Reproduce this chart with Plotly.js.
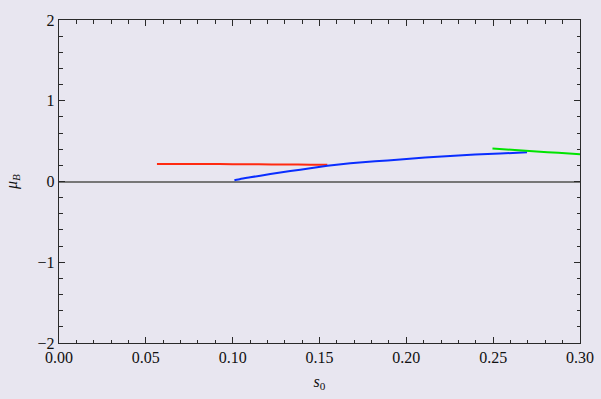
<!DOCTYPE html>
<html>
<head>
<meta charset="utf-8">
<script src="https://cdn.plot.ly/plotly-3.0.1.min.js"></script>
<style>
  html, body { margin: 0; padding: 0; background: #e8e6f0; }
  #chart { width: 601px; height: 399px; }
</style>
</head>
<body>
<div id="chart"></div>
<script>
// Red branch
const redS0 = [0.0564, 0.07, 0.085, 0.10, 0.115, 0.13, 0.145, 0.1545];
const redMu = [0.218, 0.218, 0.217, 0.215, 0.213, 0.211, 0.208, 0.206];

// Blue branch
const blueS0 = [0.1010, 0.1044, 0.1101, 0.1217, 0.1332, 0.1447, 0.1545, 0.1677, 0.1820, 0.1965,
                0.2108, 0.2252, 0.2396, 0.2540, 0.2695];
const blueMu = [0.015, 0.032, 0.052, 0.092, 0.129, 0.163, 0.194, 0.227, 0.251, 0.272,
                0.296, 0.317, 0.333, 0.346, 0.363];

// Green branch
const greenS0 = [0.2496, 0.2625, 0.275, 0.2875, 0.30];
const greenMu = [0.409, 0.390, 0.372, 0.355, 0.338];

// Axis ticks
const xTicks = [0.00, 0.05, 0.10, 0.15, 0.20, 0.25, 0.30];
const xTickText = ['0.00', '0.05', '0.10', '0.15', '0.20', '0.25', '0.30'];
const yTicks = [-2, -1, 0, 1, 2];
const yTickText = ['\u22122', '\u22121', '0', '1', '2'];

const bg = '#e8e6f0';
const frame = '#2a2a2a';
const serif = 'Liberation Serif, Times New Roman, serif';

const line = (x, y, color) => ({
  x: x, y: y, type: 'scatter', mode: 'lines',
  line: { color: color, width: 2, shape: 'spline', smoothing: 0.4 },
  hoverinfo: 'skip', showlegend: false
});

const data = [
  line(redS0, redMu, '#ff2a10'),
  line(blueS0, blueMu, '#0a2eff'),
  line(greenS0, greenMu, '#00e400')
];

const axisCommon = {
  showgrid: false,
  showline: true,
  linecolor: frame,
  linewidth: 1.2,
  mirror: 'ticks',
  ticks: 'inside',
  ticklen: 6,
  tickwidth: 1,
  tickcolor: frame,
  tickfont: { family: serif, size: 16, color: '#111' },
  fixedrange: true
};

const layout = {
  width: 601,
  height: 399,
  paper_bgcolor: bg,
  plot_bgcolor: bg,
  margin: { l: 58.5, r: 21, t: 20, b: 56 },
  xaxis: Object.assign({}, axisCommon, {
    range: [0, 0.30],
    tickvals: xTicks,
    ticktext: xTickText,
    zeroline: false,
    minor: { dtick: 0.01, ticks: 'inside', ticklen: 3.5, tickwidth: 1, tickcolor: frame, showgrid: false },
    title: { text: '<i>s</i><sub>0</sub>', font: { family: serif, size: 16, color: '#111' }, standoff: 10 }
  }),
  yaxis: Object.assign({}, axisCommon, {
    range: [-2, 2],
    tickvals: yTicks,
    ticktext: yTickText,
    zeroline: true,
    zerolinecolor: '#777777',
    zerolinewidth: 2,
    minor: { dtick: 0.2, ticks: 'inside', ticklen: 3.5, tickwidth: 1, tickcolor: frame, showgrid: false },
    title: { text: '<i>\u03bc</i><sub><i>B</i></sub>', font: { family: serif, size: 16, color: '#111' }, standoff: 16 }
  })
};

Plotly.newPlot('chart', data, layout, { displayModeBar: false, staticPlot: true });
</script>
</body>
</html>
